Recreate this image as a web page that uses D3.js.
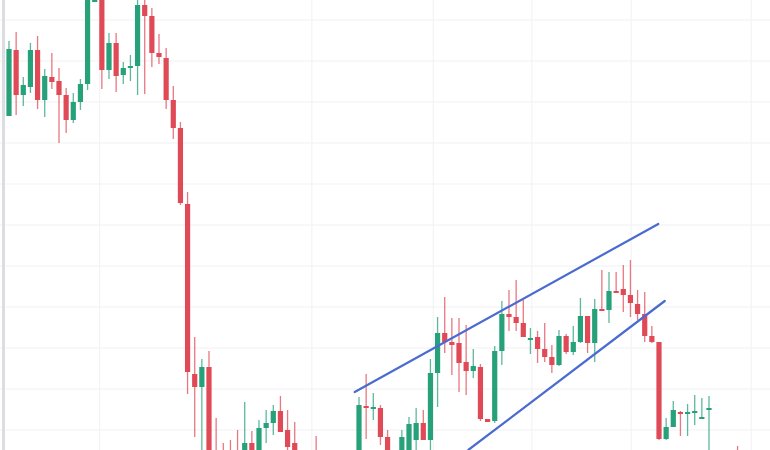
<!DOCTYPE html>
<html>
<head>
<meta charset="utf-8">
<title>Candles</title>
<style>
  body { margin: 0; background: #fff; }
  svg { display: block; }
</style>
</head>
<body>
<script src="https://d3js.org/d3.v7.min.js"></script>
<script>
// Candle values (price units), one entry per session
var open  = [334,400,355,363,400,350,373,369,355,330,348,366,448,460,380,407,375,382,384,445,434,397,392,350,322,246,76,63,83,-5,-5,-10,-10,-20,7,0,22,27,39,20,7,-10,-10,-10,-10,-10,-10,-10,-10,-10,44,42,42,13,-10,-5,0,10,27,10,77,117,108,107,88,79,83,31,29,99,136,133,127,112,113,101,93,85,114,98,108,134,107,141,140,159,161,155,146,136,114,108,11,23,38,37,39,33,41,-20,-20,-20,-20];
var close = [401,355,365,400,350,374,368,355,330,348,366,455,470,380,407,374,382,384,445,434,397,393,350,322,247,78,63,83,-5,-20,-20,-20,-20,7,-5,22,27,39,18,3,-10,-20,-20,-20,-20,-20,-20,-20,-20,45,42,43,13,-5,-20,13,26,27,10,77,117,108,105,87,79,84,31,28,99,136,133,127,113,112,101,93,85,114,98,108,134,107,141,140,159,158,155,147,136,114,108,11,23,40,37,38,39,33,42,-20,-40,-40,-40,-40];
var high  = [409,418,373,407,414,381,397,382,362,357,371,460,438,470,417,417,388,395,455,450,442,416,402,364,328,258,113,91,99,32,7,10,20,48,19,30,40,45,54,40,28,-5,-10,14,-5,-5,-5,-5,0,53,76,57,45,20,-5,20,33,42,40,91,133,153,132,132,125,101,86,7,104,149,160,170,150,122,119,127,105,120,116,124,152,134,151,180,178,178,185,190,160,158,124,108,32,49,39,46,55,52,54,-10,-10,-10,4,-20];
var low   = [334,335,344,357,341,333,361,307,317,327,340,360,438,361,371,358,366,369,355,356,383,386,341,311,245,56,13,-10,-10,-30,-30,-30,-30,-30,-10,-10,7,15,18,-10,-20,-30,-30,-30,-30,-30,-30,-30,-30,-20,11,30,5,-10,-30,-10,-10,0,10,-10,43,97,75,58,55,72,29,7,27,85,119,119,113,96,87,88,77,84,96,95,107,97,88,139,127,157,138,133,130,108,107,10,10,24,14,14,25,32,-20,-40,-40,-40,-40];

// horizontal grid prices and vertical grid sessions
var priceGrid = [430, 389, 348, 307, 266, 225, 184, 143, 102, 61, 20];
var sessionGrid = [12.7, 42.4, 59.4, 73.2, 87.1, 103.9];

// hand-drawn channel lines [session, price]
var upperLine = [[48.4, 58], [90.9, 226]];
var lowerLine = [[64.3, 0], [91.8, 149]];

var width = 770, height = 450;
var up = "#26a17a", down = "#e04a56";

var candles = open.map(function(o, i) {
  return {i: i, o: o, c: close[i], h: high[i], l: low[i]};
});

var x = d3.scaleLinear().domain([0, 98]).range([9, 709]);
var y = d3.scaleLinear().domain([0, 450]).range([450, 0]);
var bw = 5.2;

var svg = d3.select("body").append("svg")
    .attr("width", width)
    .attr("height", height);

// grid
svg.append("g").selectAll("line.h")
    .data(priceGrid)
  .enter().append("line")
    .attr("x1", 0).attr("x2", width)
    .attr("y1", function(d) { return y(d); })
    .attr("y2", function(d) { return y(d); })
    .attr("stroke", "#f0f1f3").attr("stroke-width", 1);

svg.append("g").selectAll("line.v")
    .data(sessionGrid)
  .enter().append("line")
    .attr("x1", function(d) { return x(d); })
    .attr("x2", function(d) { return x(d); })
    .attr("y1", 0).attr("y2", height)
    .attr("stroke", "#f0f1f3").attr("stroke-width", 1);

// left edge bar
svg.append("rect")
    .attr("x", 2).attr("y", 0).attr("width", 3).attr("height", height)
    .attr("fill", "#dcdde3");

var g = svg.append("g");

// wicks
g.selectAll(".wick")
    .data(candles)
  .enter().append("line")
    .attr("class", "wick")
    .attr("x1", function(d) { return x(d.i); })
    .attr("x2", function(d) { return x(d.i); })
    .attr("y1", function(d) { return y(d.h); })
    .attr("y2", function(d) { return y(d.l); })
    .attr("stroke", function(d) { return d.c >= d.o ? up : down; })
    .attr("stroke-opacity", 0.75)
    .attr("stroke-width", 1.3);

// bodies
g.selectAll(".body")
    .data(candles)
  .enter().append("rect")
    .attr("class", "body")
    .attr("x", function(d) { return x(d.i) - bw / 2; })
    .attr("width", bw)
    .attr("y", function(d) { return y(Math.max(d.o, d.c)); })
    .attr("height", function(d) { return Math.max(2, Math.abs(y(d.o) - y(d.c))); })
    .attr("fill", function(d) { return d.c >= d.o ? up : down; });

// channel
var line = d3.line()
    .x(function(d) { return x(d[0]); })
    .y(function(d) { return y(d[1]); });

[upperLine, lowerLine].forEach(function(pts) {
  svg.append("path")
      .attr("d", line(pts))
      .attr("fill", "none")
      .attr("stroke", "#4a6bd0")
      .attr("stroke-width", 2.2)
      .attr("stroke-linecap", "round");
});
</script>
</body>
</html>
